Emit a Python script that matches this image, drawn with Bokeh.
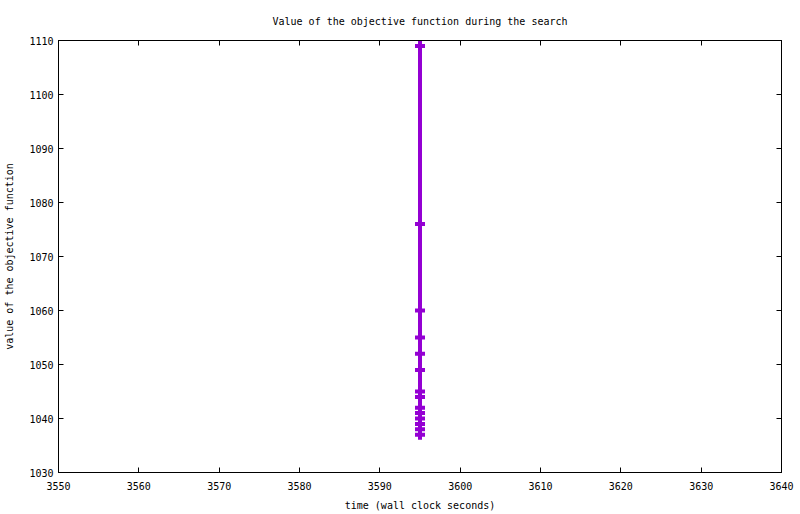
from bokeh.embed import file_html
from bokeh.models import CustomJSTickFormatter, FixedTicker, LinearAxis, Range1d
from bokeh.plotting import figure
from bokeh.resources import INLINE

# search trace: wall clock time (s) and objective value
times = [3595, 3595, 3595, 3595, 3595, 3595, 3595, 3595, 3595, 3595, 3595, 3595, 3595, 3595]
values = [1109, 1076, 1060, 1055, 1052, 1049, 1045, 1044, 1042, 1041, 1040, 1039, 1038, 1037]

x_ticks = [3550, 3560, 3570, 3580, 3590, 3600, 3610, 3620, 3630, 3640]
y_ticks = [1030, 1040, 1050, 1060, 1070, 1080, 1090, 1100, 1110]

FONT = "DejaVu Sans Mono"
COLOR = "#9400D3"

p = figure(width=800, height=514, output_backend="svg", toolbar_location=None,
           x_range=Range1d(3550, 3640), y_range=Range1d(1030, 1110),
           title="Value of the objective function during the search",
           min_border_left=58, min_border_right=19, min_border_top=40, min_border_bottom=42)

p.title.align = "center"
p.title.text_font = FONT
p.title.text_font_size = "10px"
p.title.text_font_style = "normal"
p.title.text_color = "black"
p.title.standoff = 27

p.grid.visible = False
p.outline_line_color = "black"
p.outline_line_width = 1
p.background_fill_color = "white"
p.border_fill_color = "white"

p.xaxis.axis_label = "time (wall clock seconds)"
p.yaxis.axis_label = "value of the objective function"

for ax in (p.xaxis[0], p.yaxis[0]):
    ax.major_tick_in = 5
    ax.major_tick_out = 0
    ax.minor_tick_line_color = None
    ax.axis_line_color = "black"
    ax.major_tick_line_color = "black"
    ax.major_label_text_font = FONT
    ax.major_label_text_font_size = "10px"
    ax.major_label_text_color = "black"
    ax.axis_label_text_font = FONT
    ax.axis_label_text_font_size = "10px"
    ax.axis_label_text_font_style = "normal"
    ax.axis_label_text_color = "black"

p.xaxis.ticker = FixedTicker(ticks=x_ticks)
p.yaxis.ticker = FixedTicker(ticks=y_ticks)
p.xaxis.major_label_standoff = 9
p.yaxis.major_label_standoff = 5
p.xaxis.axis_label_standoff = 7
p.yaxis.axis_label_standoff = 11

# mirrored ticks on top and right, labels left blank
blank = CustomJSTickFormatter(code="return ''")
top = LinearAxis(ticker=FixedTicker(ticks=x_ticks), formatter=blank,
                 major_tick_in=5, major_tick_out=0, minor_tick_line_color=None,
                 major_label_standoff=0, axis_line_color="black")
right = LinearAxis(ticker=FixedTicker(ticks=y_ticks), formatter=blank,
                   major_tick_in=5, major_tick_out=0, minor_tick_line_color=None,
                   major_label_standoff=0, axis_line_color="black")
p.add_layout(top, "above")
p.add_layout(right, "right")

p.line(times, values, line_width=4, line_color=COLOR)
p.scatter(times, values, marker="cross", size=10, line_width=4, line_color=COLOR)

open("out.html", "w").write(file_html(p, INLINE))
